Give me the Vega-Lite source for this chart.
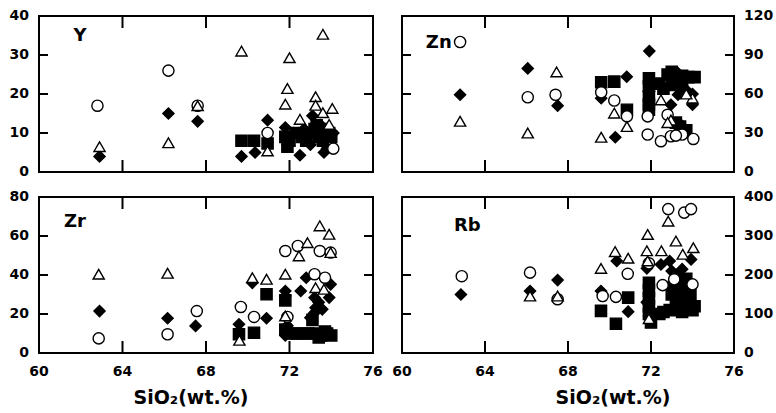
{
  "$schema": "https://vega.github.io/schema/vega-lite/v6.json",
  "background": "white",
  "padding": {"left": 8, "top": 8, "right": 4, "bottom": 4},
  "config": {
    "font": "DejaVu Sans",
    "view": {"stroke": "black", "strokeWidth": 2},
    "tick": {"opacity": 1},
    "text": {"font": "DejaVu Sans", "fontWeight": "bold", "color": "black"}
  },
  "datasets": {
    "ticks": [
      {"panel":"Y","dir":"x","t":64},{"panel":"Y","dir":"x","t":68},{"panel":"Y","dir":"x","t":72},
      {"panel":"Y","dir":"y","t":10},{"panel":"Y","dir":"y","t":20},{"panel":"Y","dir":"y","t":30},
      {"panel":"Zn","dir":"x","t":64},{"panel":"Zn","dir":"x","t":68},{"panel":"Zn","dir":"x","t":72},
      {"panel":"Zn","dir":"y","t":30},{"panel":"Zn","dir":"y","t":60},{"panel":"Zn","dir":"y","t":90},
      {"panel":"Zr","dir":"x","t":64},{"panel":"Zr","dir":"x","t":68},{"panel":"Zr","dir":"x","t":72},
      {"panel":"Zr","dir":"y","t":20},{"panel":"Zr","dir":"y","t":40},{"panel":"Zr","dir":"y","t":60},
      {"panel":"Rb","dir":"x","t":64},{"panel":"Rb","dir":"x","t":68},{"panel":"Rb","dir":"x","t":72},
      {"panel":"Rb","dir":"y","t":100},{"panel":"Rb","dir":"y","t":200},{"panel":"Rb","dir":"y","t":300}
    ],
    "labels": [
      {"panel":"Y","dir":"y","t":0},{"panel":"Y","dir":"y","t":10},{"panel":"Y","dir":"y","t":20},{"panel":"Y","dir":"y","t":30},{"panel":"Y","dir":"y","t":40},
      {"panel":"Zn","dir":"y","t":0},{"panel":"Zn","dir":"y","t":30},{"panel":"Zn","dir":"y","t":60},{"panel":"Zn","dir":"y","t":90},{"panel":"Zn","dir":"y","t":120},
      {"panel":"Zr","dir":"y","t":0},{"panel":"Zr","dir":"y","t":20},{"panel":"Zr","dir":"y","t":40},{"panel":"Zr","dir":"y","t":60},{"panel":"Zr","dir":"y","t":80},
      {"panel":"Rb","dir":"y","t":0},{"panel":"Rb","dir":"y","t":100},{"panel":"Rb","dir":"y","t":200},{"panel":"Rb","dir":"y","t":300},{"panel":"Rb","dir":"y","t":400},
      {"panel":"Zr","dir":"x","t":60},{"panel":"Zr","dir":"x","t":64},{"panel":"Zr","dir":"x","t":68},{"panel":"Zr","dir":"x","t":72},{"panel":"Zr","dir":"x","t":76},
      {"panel":"Rb","dir":"x","t":60},{"panel":"Rb","dir":"x","t":64},{"panel":"Rb","dir":"x","t":68},{"panel":"Rb","dir":"x","t":72},{"panel":"Rb","dir":"x","t":76}
    ],
    "pts": [
      {"panel":"Y","grp":"diamond","sio2":62.9,"val":4},
      {"panel":"Y","grp":"diamond","sio2":66.2,"val":15},
      {"panel":"Y","grp":"diamond","sio2":67.6,"val":13},
      {"panel":"Y","grp":"diamond","sio2":69.7,"val":4},
      {"panel":"Y","grp":"diamond","sio2":70.35,"val":5},
      {"panel":"Y","grp":"diamond","sio2":70.95,"val":13.3},
      {"panel":"Y","grp":"diamond","sio2":71.8,"val":11.4},
      {"panel":"Y","grp":"diamond","sio2":72.5,"val":4.3},
      {"panel":"Y","grp":"diamond","sio2":73.65,"val":5},
      {"panel":"Y","grp":"diamond","sio2":73.1,"val":14.4},
      {"panel":"Y","grp":"diamond","sio2":71.9,"val":7},
      {"panel":"Y","grp":"diamond","sio2":72.2,"val":10},
      {"panel":"Y","grp":"diamond","sio2":73.0,"val":7},
      {"panel":"Y","grp":"diamond","sio2":73.5,"val":12},
      {"panel":"Y","grp":"diamond","sio2":73.8,"val":6},
      {"panel":"Y","grp":"diamond","sio2":74.1,"val":10},
      {"panel":"Y","grp":"diamond","sio2":72.7,"val":11},
      {"panel":"Y","grp":"diamond","sio2":73.3,"val":9},
      {"panel":"Y","grp":"square","sio2":69.7,"val":8},
      {"panel":"Y","grp":"square","sio2":70.3,"val":8},
      {"panel":"Y","grp":"square","sio2":70.95,"val":7.3},
      {"panel":"Y","grp":"square","sio2":71.8,"val":9},
      {"panel":"Y","grp":"square","sio2":72.0,"val":8},
      {"panel":"Y","grp":"square","sio2":72.3,"val":10},
      {"panel":"Y","grp":"square","sio2":72.6,"val":9},
      {"panel":"Y","grp":"square","sio2":72.9,"val":10},
      {"panel":"Y","grp":"square","sio2":73.2,"val":11},
      {"panel":"Y","grp":"square","sio2":73.4,"val":9},
      {"panel":"Y","grp":"square","sio2":73.6,"val":8},
      {"panel":"Y","grp":"square","sio2":73.9,"val":10},
      {"panel":"Y","grp":"square","sio2":73.3,"val":12},
      {"panel":"Y","grp":"square","sio2":72.8,"val":8},
      {"panel":"Y","grp":"square","sio2":73.7,"val":11},
      {"panel":"Y","grp":"square","sio2":74.0,"val":9},
      {"panel":"Y","grp":"square","sio2":71.9,"val":6.5},
      {"panel":"Y","grp":"circle","sio2":62.8,"val":17},
      {"panel":"Y","grp":"circle","sio2":66.2,"val":26},
      {"panel":"Y","grp":"circle","sio2":67.6,"val":17},
      {"panel":"Y","grp":"circle","sio2":70.95,"val":10},
      {"panel":"Y","grp":"circle","sio2":74.1,"val":6},
      {"panel":"Y","grp":"triangle","sio2":62.9,"val":6.5},
      {"panel":"Y","grp":"triangle","sio2":66.2,"val":7.5},
      {"panel":"Y","grp":"triangle","sio2":67.6,"val":17},
      {"panel":"Y","grp":"triangle","sio2":69.7,"val":31},
      {"panel":"Y","grp":"triangle","sio2":72.0,"val":29.3},
      {"panel":"Y","grp":"triangle","sio2":73.6,"val":35.3},
      {"panel":"Y","grp":"triangle","sio2":71.9,"val":21.4},
      {"panel":"Y","grp":"triangle","sio2":71.8,"val":17.4},
      {"panel":"Y","grp":"triangle","sio2":72.5,"val":13.5},
      {"panel":"Y","grp":"triangle","sio2":73.25,"val":19.3},
      {"panel":"Y","grp":"triangle","sio2":73.25,"val":17.1},
      {"panel":"Y","grp":"triangle","sio2":73.6,"val":15.2},
      {"panel":"Y","grp":"triangle","sio2":74.05,"val":16.3},
      {"panel":"Y","grp":"triangle","sio2":73.9,"val":12.2},
      {"panel":"Y","grp":"triangle","sio2":70.95,"val":5.4},

      {"panel":"Zn","grp":"diamond","sio2":62.8,"val":59.4},
      {"panel":"Zn","grp":"diamond","sio2":66.06,"val":79.7},
      {"panel":"Zn","grp":"diamond","sio2":67.5,"val":51},
      {"panel":"Zn","grp":"diamond","sio2":70.83,"val":73.3},
      {"panel":"Zn","grp":"diamond","sio2":69.6,"val":56.8},
      {"panel":"Zn","grp":"diamond","sio2":70.28,"val":26.7},
      {"panel":"Zn","grp":"diamond","sio2":71.92,"val":93},
      {"panel":"Zn","grp":"diamond","sio2":72.96,"val":51.7},
      {"panel":"Zn","grp":"diamond","sio2":74.0,"val":51.7},
      {"panel":"Zn","grp":"diamond","sio2":73.3,"val":59.4},
      {"panel":"Zn","grp":"diamond","sio2":71.9,"val":62},
      {"panel":"Zn","grp":"diamond","sio2":71.9,"val":55},
      {"panel":"Zn","grp":"diamond","sio2":72.5,"val":66},
      {"panel":"Zn","grp":"diamond","sio2":73.3,"val":76},
      {"panel":"Zn","grp":"diamond","sio2":73.7,"val":63},
      {"panel":"Zn","grp":"diamond","sio2":74.0,"val":60},
      {"panel":"Zn","grp":"diamond","sio2":73.4,"val":37},
      {"panel":"Zn","grp":"square","sio2":69.6,"val":69},
      {"panel":"Zn","grp":"square","sio2":70.23,"val":69.5},
      {"panel":"Zn","grp":"square","sio2":70.84,"val":47.9},
      {"panel":"Zn","grp":"square","sio2":71.9,"val":72},
      {"panel":"Zn","grp":"square","sio2":71.9,"val":66},
      {"panel":"Zn","grp":"square","sio2":71.9,"val":58},
      {"panel":"Zn","grp":"square","sio2":71.9,"val":52},
      {"panel":"Zn","grp":"square","sio2":71.9,"val":48},
      {"panel":"Zn","grp":"square","sio2":72.4,"val":68},
      {"panel":"Zn","grp":"square","sio2":72.8,"val":75},
      {"panel":"Zn","grp":"square","sio2":73.0,"val":77},
      {"panel":"Zn","grp":"square","sio2":73.2,"val":72},
      {"panel":"Zn","grp":"square","sio2":73.5,"val":74},
      {"panel":"Zn","grp":"square","sio2":73.8,"val":73},
      {"panel":"Zn","grp":"square","sio2":74.1,"val":73},
      {"panel":"Zn","grp":"square","sio2":73.0,"val":67},
      {"panel":"Zn","grp":"square","sio2":73.5,"val":66},
      {"panel":"Zn","grp":"square","sio2":72.6,"val":64},
      {"panel":"Zn","grp":"square","sio2":73.4,"val":35},
      {"panel":"Zn","grp":"square","sio2":73.7,"val":32},
      {"panel":"Zn","grp":"square","sio2":73.2,"val":38},
      {"panel":"Zn","grp":"circle","sio2":62.8,"val":100},
      {"panel":"Zn","grp":"circle","sio2":66.06,"val":57.5},
      {"panel":"Zn","grp":"circle","sio2":67.4,"val":59.4},
      {"panel":"Zn","grp":"circle","sio2":69.6,"val":61.3},
      {"panel":"Zn","grp":"circle","sio2":70.23,"val":55},
      {"panel":"Zn","grp":"circle","sio2":70.84,"val":42.8},
      {"panel":"Zn","grp":"circle","sio2":71.84,"val":28.8},
      {"panel":"Zn","grp":"circle","sio2":72.48,"val":23.7},
      {"panel":"Zn","grp":"circle","sio2":72.96,"val":27.5},
      {"panel":"Zn","grp":"circle","sio2":73.5,"val":28.8},
      {"panel":"Zn","grp":"circle","sio2":74.04,"val":25.4},
      {"panel":"Zn","grp":"circle","sio2":72.8,"val":44},
      {"panel":"Zn","grp":"circle","sio2":71.84,"val":42.8},
      {"panel":"Zn","grp":"circle","sio2":73.2,"val":28},
      {"panel":"Zn","grp":"triangle","sio2":62.8,"val":39},
      {"panel":"Zn","grp":"triangle","sio2":66.06,"val":30},
      {"panel":"Zn","grp":"triangle","sio2":67.45,"val":77},
      {"panel":"Zn","grp":"triangle","sio2":70.23,"val":45.3},
      {"panel":"Zn","grp":"triangle","sio2":70.84,"val":35},
      {"panel":"Zn","grp":"triangle","sio2":69.6,"val":26.7},
      {"panel":"Zn","grp":"triangle","sio2":72.48,"val":55.5},
      {"panel":"Zn","grp":"triangle","sio2":72.96,"val":40},
      {"panel":"Zn","grp":"triangle","sio2":74.0,"val":56.8},
      {"panel":"Zn","grp":"triangle","sio2":72.8,"val":38},
      {"panel":"Zn","grp":"triangle","sio2":73.7,"val":60},

      {"panel":"Zr","grp":"diamond","sio2":62.9,"val":21.5},
      {"panel":"Zr","grp":"diamond","sio2":66.16,"val":17.8},
      {"panel":"Zr","grp":"diamond","sio2":67.5,"val":13.9},
      {"panel":"Zr","grp":"diamond","sio2":69.58,"val":14.7},
      {"panel":"Zr","grp":"diamond","sio2":70.22,"val":36},
      {"panel":"Zr","grp":"diamond","sio2":70.9,"val":17.8},
      {"panel":"Zr","grp":"diamond","sio2":71.8,"val":31.8},
      {"panel":"Zr","grp":"diamond","sio2":71.8,"val":29.2},
      {"panel":"Zr","grp":"diamond","sio2":72.54,"val":31.8},
      {"panel":"Zr","grp":"diamond","sio2":72.8,"val":38.6},
      {"panel":"Zr","grp":"diamond","sio2":73.97,"val":35.2},
      {"panel":"Zr","grp":"diamond","sio2":73.9,"val":28.4},
      {"panel":"Zr","grp":"diamond","sio2":73.2,"val":28.4},
      {"panel":"Zr","grp":"diamond","sio2":73.25,"val":23.2},
      {"panel":"Zr","grp":"diamond","sio2":73.0,"val":18.1},
      {"panel":"Zr","grp":"diamond","sio2":73.57,"val":22.4},
      {"panel":"Zr","grp":"diamond","sio2":73.2,"val":20.7},
      {"panel":"Zr","grp":"diamond","sio2":71.9,"val":14},
      {"panel":"Zr","grp":"diamond","sio2":71.8,"val":9},
      {"panel":"Zr","grp":"diamond","sio2":73.4,"val":26},
      {"panel":"Zr","grp":"square","sio2":69.58,"val":9.6},
      {"panel":"Zr","grp":"square","sio2":70.3,"val":10.4},
      {"panel":"Zr","grp":"square","sio2":70.9,"val":30.1},
      {"panel":"Zr","grp":"square","sio2":71.8,"val":12},
      {"panel":"Zr","grp":"square","sio2":72.0,"val":10},
      {"panel":"Zr","grp":"square","sio2":72.3,"val":10},
      {"panel":"Zr","grp":"square","sio2":72.6,"val":10},
      {"panel":"Zr","grp":"square","sio2":72.9,"val":10},
      {"panel":"Zr","grp":"square","sio2":73.2,"val":10},
      {"panel":"Zr","grp":"square","sio2":73.5,"val":9},
      {"panel":"Zr","grp":"square","sio2":73.8,"val":10},
      {"panel":"Zr","grp":"square","sio2":74.0,"val":9},
      {"panel":"Zr","grp":"square","sio2":73.7,"val":11},
      {"panel":"Zr","grp":"square","sio2":73.4,"val":8},
      {"panel":"Zr","grp":"square","sio2":71.8,"val":27},
      {"panel":"Zr","grp":"square","sio2":73.1,"val":17},
      {"panel":"Zr","grp":"circle","sio2":62.86,"val":7.5},
      {"panel":"Zr","grp":"circle","sio2":66.16,"val":9.6},
      {"panel":"Zr","grp":"circle","sio2":67.56,"val":21.5},
      {"panel":"Zr","grp":"circle","sio2":69.67,"val":23.6},
      {"panel":"Zr","grp":"circle","sio2":70.3,"val":18.5},
      {"panel":"Zr","grp":"circle","sio2":71.8,"val":52.3},
      {"panel":"Zr","grp":"circle","sio2":71.9,"val":18.5},
      {"panel":"Zr","grp":"circle","sio2":72.4,"val":54.9},
      {"panel":"Zr","grp":"circle","sio2":73.45,"val":52.3},
      {"panel":"Zr","grp":"circle","sio2":73.97,"val":51.5},
      {"panel":"Zr","grp":"circle","sio2":73.2,"val":40.4},
      {"panel":"Zr","grp":"circle","sio2":73.7,"val":38.6},
      {"panel":"Zr","grp":"triangle","sio2":62.86,"val":40.4},
      {"panel":"Zr","grp":"triangle","sio2":66.16,"val":40.9},
      {"panel":"Zr","grp":"triangle","sio2":69.6,"val":6.5},
      {"panel":"Zr","grp":"triangle","sio2":70.22,"val":38.6},
      {"panel":"Zr","grp":"triangle","sio2":70.9,"val":37.8},
      {"panel":"Zr","grp":"triangle","sio2":71.8,"val":40.4},
      {"panel":"Zr","grp":"triangle","sio2":71.8,"val":19},
      {"panel":"Zr","grp":"triangle","sio2":72.45,"val":49.8},
      {"panel":"Zr","grp":"triangle","sio2":72.86,"val":56.6},
      {"panel":"Zr","grp":"triangle","sio2":73.45,"val":65.2},
      {"panel":"Zr","grp":"triangle","sio2":73.9,"val":60.9},
      {"panel":"Zr","grp":"triangle","sio2":73.97,"val":51.5},
      {"panel":"Zr","grp":"triangle","sio2":73.25,"val":33.5},
      {"panel":"Zr","grp":"triangle","sio2":73.65,"val":32.7},

      {"panel":"Rb","grp":"diamond","sio2":62.84,"val":150},
      {"panel":"Rb","grp":"diamond","sio2":66.17,"val":159},
      {"panel":"Rb","grp":"diamond","sio2":67.5,"val":187},
      {"panel":"Rb","grp":"diamond","sio2":69.59,"val":159},
      {"panel":"Rb","grp":"diamond","sio2":70.35,"val":236},
      {"panel":"Rb","grp":"diamond","sio2":70.9,"val":106},
      {"panel":"Rb","grp":"diamond","sio2":71.8,"val":217},
      {"panel":"Rb","grp":"diamond","sio2":71.8,"val":130},
      {"panel":"Rb","grp":"diamond","sio2":71.9,"val":95},
      {"panel":"Rb","grp":"diamond","sio2":72.48,"val":227},
      {"panel":"Rb","grp":"diamond","sio2":72.9,"val":236},
      {"panel":"Rb","grp":"diamond","sio2":73.93,"val":240},
      {"panel":"Rb","grp":"diamond","sio2":73.5,"val":215},
      {"panel":"Rb","grp":"diamond","sio2":73.4,"val":170},
      {"panel":"Rb","grp":"diamond","sio2":73.9,"val":130},
      {"panel":"Rb","grp":"diamond","sio2":73.0,"val":210},
      {"panel":"Rb","grp":"square","sio2":69.59,"val":108},
      {"panel":"Rb","grp":"square","sio2":70.31,"val":75},
      {"panel":"Rb","grp":"square","sio2":70.9,"val":142},
      {"panel":"Rb","grp":"square","sio2":71.9,"val":180},
      {"panel":"Rb","grp":"square","sio2":71.9,"val":160},
      {"panel":"Rb","grp":"square","sio2":71.9,"val":140},
      {"panel":"Rb","grp":"square","sio2":71.9,"val":120},
      {"panel":"Rb","grp":"square","sio2":71.9,"val":100},
      {"panel":"Rb","grp":"square","sio2":72.0,"val":78},
      {"panel":"Rb","grp":"square","sio2":72.6,"val":105},
      {"panel":"Rb","grp":"square","sio2":72.9,"val":110},
      {"panel":"Rb","grp":"square","sio2":73.2,"val":120},
      {"panel":"Rb","grp":"square","sio2":73.4,"val":140},
      {"panel":"Rb","grp":"square","sio2":73.6,"val":160},
      {"panel":"Rb","grp":"square","sio2":73.8,"val":130},
      {"panel":"Rb","grp":"square","sio2":74.0,"val":110},
      {"panel":"Rb","grp":"square","sio2":73.3,"val":200},
      {"panel":"Rb","grp":"square","sio2":73.7,"val":190},
      {"panel":"Rb","grp":"square","sio2":73.1,"val":170},
      {"panel":"Rb","grp":"square","sio2":73.5,"val":105},
      {"panel":"Rb","grp":"square","sio2":74.1,"val":120},
      {"panel":"Rb","grp":"square","sio2":73.0,"val":150},
      {"panel":"Rb","grp":"square","sio2":73.9,"val":150},
      {"panel":"Rb","grp":"square","sio2":72.4,"val":100},
      {"panel":"Rb","grp":"circle","sio2":62.88,"val":197},
      {"panel":"Rb","grp":"circle","sio2":66.17,"val":206},
      {"panel":"Rb","grp":"circle","sio2":67.5,"val":138},
      {"panel":"Rb","grp":"circle","sio2":69.67,"val":146},
      {"panel":"Rb","grp":"circle","sio2":70.31,"val":144},
      {"panel":"Rb","grp":"circle","sio2":70.88,"val":203},
      {"panel":"Rb","grp":"circle","sio2":72.83,"val":369},
      {"panel":"Rb","grp":"circle","sio2":73.6,"val":360},
      {"panel":"Rb","grp":"circle","sio2":73.93,"val":369},
      {"panel":"Rb","grp":"circle","sio2":72.56,"val":174},
      {"panel":"Rb","grp":"circle","sio2":74.0,"val":176},
      {"panel":"Rb","grp":"circle","sio2":73.12,"val":189},
      {"panel":"Rb","grp":"circle","sio2":71.9,"val":230},
      {"panel":"Rb","grp":"triangle","sio2":66.17,"val":146},
      {"panel":"Rb","grp":"triangle","sio2":67.5,"val":146},
      {"panel":"Rb","grp":"triangle","sio2":69.59,"val":217},
      {"panel":"Rb","grp":"triangle","sio2":70.27,"val":260},
      {"panel":"Rb","grp":"triangle","sio2":70.9,"val":243},
      {"panel":"Rb","grp":"triangle","sio2":71.84,"val":304},
      {"panel":"Rb","grp":"triangle","sio2":71.8,"val":262},
      {"panel":"Rb","grp":"triangle","sio2":71.84,"val":236},
      {"panel":"Rb","grp":"triangle","sio2":72.5,"val":262},
      {"panel":"Rb","grp":"triangle","sio2":72.83,"val":338},
      {"panel":"Rb","grp":"triangle","sio2":73.2,"val":287},
      {"panel":"Rb","grp":"triangle","sio2":73.53,"val":253},
      {"panel":"Rb","grp":"triangle","sio2":74.04,"val":270},
      {"panel":"Rb","grp":"triangle","sio2":71.9,"val":88}
    ]
  },
  "columns": 2,
  "spacing": {"row": 25, "column": 29},
  "bounds": "flush",
  "concat": [
    {
      "width": 334, "height": 156,
      "layer": [
        {
          "data": {"name": "ticks"},
          "transform": [{"filter": "datum.panel === 'Y' && datum.dir === 'x'"}],
          "layer": [
            {"mark": {"type": "tick", "orient": "vertical", "size": 12, "thickness": 2, "color": "black", "opacity": 1, "yOffset": -6},
             "encoding": {"x": {"field": "t", "type": "quantitative", "axis": null}, "y": {"datum": 0, "type": "quantitative", "axis": null}}},
            {"mark": {"type": "tick", "orient": "vertical", "size": 12, "thickness": 2, "color": "black", "opacity": 1, "yOffset": 6},
             "encoding": {"x": {"field": "t", "type": "quantitative", "axis": null}, "y": {"datum": 40, "type": "quantitative", "axis": null}}}
          ]
        },
        {
          "data": {"name": "ticks"},
          "transform": [{"filter": "datum.panel === 'Y' && datum.dir === 'y'"}],
          "layer": [
            {"mark": {"type": "tick", "orient": "horizontal", "size": 9, "thickness": 2, "color": "black", "opacity": 1, "xOffset": 4.5},
             "encoding": {"y": {"field": "t", "type": "quantitative", "axis": null}, "x": {"datum": 60, "type": "quantitative", "axis": null}}},
            {"mark": {"type": "tick", "orient": "horizontal", "size": 9, "thickness": 2, "color": "black", "opacity": 1, "xOffset": -4.5},
             "encoding": {"y": {"field": "t", "type": "quantitative", "axis": null}, "x": {"datum": 76, "type": "quantitative", "axis": null}}}
          ]
        },
        {
          "data": {"name": "pts"},
          "transform": [{"filter": "datum.panel === 'Y'"}],
          "mark": {"type": "point", "filled": true, "stroke": "black", "strokeWidth": 1.4, "size": 125, "opacity": 1},
          "encoding": {
            "x": {"field": "sio2", "type": "quantitative", "scale": {"domain": [60, 76], "nice": false, "zero": false}, "axis": null},
            "y": {"field": "val", "type": "quantitative", "scale": {"domain": [0, 40], "nice": false}, "axis": null},
            "shape": {"field": "grp", "type": "nominal", "scale": {"domain": ["circle", "triangle", "diamond", "square"], "range": ["circle", "triangle-up", "diamond", "square"]}, "legend": null},
            "fill": {"field": "grp", "type": "nominal", "scale": {"domain": ["circle", "triangle", "diamond", "square"], "range": ["white", "white", "black", "black"]}, "legend": null}
          }
        },
        {
          "data": {"name": "labels"},
          "transform": [{"filter": "datum.panel === 'Y' && datum.dir === 'y'"}],
          "mark": {"type": "text", "align": "right", "baseline": "middle", "dx": -10, "fontSize": 14, "fontWeight": "bold", "font": "DejaVu Sans", "color": "black"},
          "encoding": {
            "y": {"field": "t", "type": "quantitative", "axis": null},
            "x": {"datum": 60, "type": "quantitative", "axis": null},
            "text": {"field": "t", "type": "quantitative"}
          }
        },
        {
          "data": {"values": [{}]},
          "mark": {"type": "text", "text": "Y", "align": "left", "baseline": "middle", "font": "DejaVu Sans", "fontWeight": "bold", "fontSize": 18, "color": "black"},
          "encoding": {
            "x": {"datum": 61.65, "type": "quantitative", "axis": null},
            "y": {"datum": 35, "type": "quantitative", "axis": null}
          }
        }
      ]
    },
    {
      "width": 332, "height": 156,
      "layer": [
        {
          "data": {"name": "ticks"},
          "transform": [{"filter": "datum.panel === 'Zn' && datum.dir === 'x'"}],
          "layer": [
            {"mark": {"type": "tick", "orient": "vertical", "size": 12, "thickness": 2, "color": "black", "opacity": 1, "yOffset": -6},
             "encoding": {"x": {"field": "t", "type": "quantitative", "axis": null}, "y": {"datum": 0, "type": "quantitative", "axis": null}}},
            {"mark": {"type": "tick", "orient": "vertical", "size": 12, "thickness": 2, "color": "black", "opacity": 1, "yOffset": 6},
             "encoding": {"x": {"field": "t", "type": "quantitative", "axis": null}, "y": {"datum": 120, "type": "quantitative", "axis": null}}}
          ]
        },
        {
          "data": {"name": "ticks"},
          "transform": [{"filter": "datum.panel === 'Zn' && datum.dir === 'y'"}],
          "layer": [
            {"mark": {"type": "tick", "orient": "horizontal", "size": 9, "thickness": 2, "color": "black", "opacity": 1, "xOffset": 4.5},
             "encoding": {"y": {"field": "t", "type": "quantitative", "axis": null}, "x": {"datum": 60, "type": "quantitative", "axis": null}}},
            {"mark": {"type": "tick", "orient": "horizontal", "size": 9, "thickness": 2, "color": "black", "opacity": 1, "xOffset": -4.5},
             "encoding": {"y": {"field": "t", "type": "quantitative", "axis": null}, "x": {"datum": 76, "type": "quantitative", "axis": null}}}
          ]
        },
        {
          "data": {"name": "pts"},
          "transform": [{"filter": "datum.panel === 'Zn'"}],
          "mark": {"type": "point", "filled": true, "stroke": "black", "strokeWidth": 1.4, "size": 125, "opacity": 1},
          "encoding": {
            "x": {"field": "sio2", "type": "quantitative", "scale": {"domain": [60, 76], "nice": false, "zero": false}, "axis": null},
            "y": {"field": "val", "type": "quantitative", "scale": {"domain": [0, 120], "nice": false}, "axis": null},
            "shape": {"field": "grp", "type": "nominal", "scale": {"domain": ["circle", "triangle", "diamond", "square"], "range": ["circle", "triangle-up", "diamond", "square"]}, "legend": null},
            "fill": {"field": "grp", "type": "nominal", "scale": {"domain": ["circle", "triangle", "diamond", "square"], "range": ["white", "white", "black", "black"]}, "legend": null}
          }
        },
        {
          "data": {"name": "labels"},
          "transform": [{"filter": "datum.panel === 'Zn' && datum.dir === 'y'"}],
          "mark": {"type": "text", "align": "left", "baseline": "middle", "dx": 10, "fontSize": 14, "fontWeight": "bold", "font": "DejaVu Sans", "color": "black"},
          "encoding": {
            "y": {"field": "t", "type": "quantitative", "axis": null},
            "x": {"datum": 76, "type": "quantitative", "axis": null},
            "text": {"field": "t", "type": "quantitative"}
          }
        },
        {
          "data": {"values": [{}]},
          "mark": {"type": "text", "text": "Zn", "align": "left", "baseline": "middle", "font": "DejaVu Sans", "fontWeight": "bold", "fontSize": 18, "color": "black"},
          "encoding": {
            "x": {"datum": 61.15, "type": "quantitative", "axis": null},
            "y": {"datum": 99, "type": "quantitative", "axis": null}
          }
        }
      ]
    },
    {
      "width": 334, "height": 156,
      "layer": [
        {
          "data": {"name": "ticks"},
          "transform": [{"filter": "datum.panel === 'Zr' && datum.dir === 'x'"}],
          "layer": [
            {"mark": {"type": "tick", "orient": "vertical", "size": 12, "thickness": 2, "color": "black", "opacity": 1, "yOffset": -6},
             "encoding": {"x": {"field": "t", "type": "quantitative", "axis": null}, "y": {"datum": 0, "type": "quantitative", "axis": null}}},
            {"mark": {"type": "tick", "orient": "vertical", "size": 12, "thickness": 2, "color": "black", "opacity": 1, "yOffset": 6},
             "encoding": {"x": {"field": "t", "type": "quantitative", "axis": null}, "y": {"datum": 80, "type": "quantitative", "axis": null}}}
          ]
        },
        {
          "data": {"name": "ticks"},
          "transform": [{"filter": "datum.panel === 'Zr' && datum.dir === 'y'"}],
          "layer": [
            {"mark": {"type": "tick", "orient": "horizontal", "size": 9, "thickness": 2, "color": "black", "opacity": 1, "xOffset": 4.5},
             "encoding": {"y": {"field": "t", "type": "quantitative", "axis": null}, "x": {"datum": 60, "type": "quantitative", "axis": null}}},
            {"mark": {"type": "tick", "orient": "horizontal", "size": 9, "thickness": 2, "color": "black", "opacity": 1, "xOffset": -4.5},
             "encoding": {"y": {"field": "t", "type": "quantitative", "axis": null}, "x": {"datum": 76, "type": "quantitative", "axis": null}}}
          ]
        },
        {
          "data": {"name": "pts"},
          "transform": [{"filter": "datum.panel === 'Zr'"}],
          "mark": {"type": "point", "filled": true, "stroke": "black", "strokeWidth": 1.4, "size": 125, "opacity": 1},
          "encoding": {
            "x": {"field": "sio2", "type": "quantitative", "scale": {"domain": [60, 76], "nice": false, "zero": false}, "axis": null},
            "y": {"field": "val", "type": "quantitative", "scale": {"domain": [0, 80], "nice": false}, "axis": null},
            "shape": {"field": "grp", "type": "nominal", "scale": {"domain": ["circle", "triangle", "diamond", "square"], "range": ["circle", "triangle-up", "diamond", "square"]}, "legend": null},
            "fill": {"field": "grp", "type": "nominal", "scale": {"domain": ["circle", "triangle", "diamond", "square"], "range": ["white", "white", "black", "black"]}, "legend": null}
          }
        },
        {
          "data": {"name": "labels"},
          "transform": [{"filter": "datum.panel === 'Zr' && datum.dir === 'y'"}],
          "mark": {"type": "text", "align": "right", "baseline": "middle", "dx": -10, "fontSize": 14, "fontWeight": "bold", "font": "DejaVu Sans", "color": "black"},
          "encoding": {
            "y": {"field": "t", "type": "quantitative", "axis": null},
            "x": {"datum": 60, "type": "quantitative", "axis": null},
            "text": {"field": "t", "type": "quantitative"}
          }
        },
        {
          "data": {"name": "labels"},
          "transform": [{"filter": "datum.panel === 'Zr' && datum.dir === 'x'"}],
          "mark": {"type": "text", "align": "center", "baseline": "top", "dy": 12, "fontSize": 14, "fontWeight": "bold", "font": "DejaVu Sans", "color": "black"},
          "encoding": {
            "x": {"field": "t", "type": "quantitative", "axis": null},
            "y": {"datum": 0, "type": "quantitative", "axis": null},
            "text": {"field": "t", "type": "quantitative"}
          }
        },
        {
          "data": {"values": [{}]},
          "mark": {"type": "text", "text": "SiO₂(wt.%)", "align": "center", "baseline": "middle", "dy": 45, "font": "DejaVu Sans", "fontWeight": "bold", "fontSize": 19, "color": "black"},
          "encoding": {
            "x": {"datum": 67.28, "type": "quantitative", "axis": null},
            "y": {"datum": 0, "type": "quantitative", "axis": null}
          }
        },
        {
          "data": {"values": [{}]},
          "mark": {"type": "text", "text": "Zr", "align": "left", "baseline": "middle", "font": "DejaVu Sans", "fontWeight": "bold", "fontSize": 18, "color": "black"},
          "encoding": {
            "x": {"datum": 61.2, "type": "quantitative", "axis": null},
            "y": {"datum": 67, "type": "quantitative", "axis": null}
          }
        }
      ]
    },
    {
      "width": 332, "height": 156,
      "layer": [
        {
          "data": {"name": "ticks"},
          "transform": [{"filter": "datum.panel === 'Rb' && datum.dir === 'x'"}],
          "layer": [
            {"mark": {"type": "tick", "orient": "vertical", "size": 12, "thickness": 2, "color": "black", "opacity": 1, "yOffset": -6},
             "encoding": {"x": {"field": "t", "type": "quantitative", "axis": null}, "y": {"datum": 0, "type": "quantitative", "axis": null}}},
            {"mark": {"type": "tick", "orient": "vertical", "size": 12, "thickness": 2, "color": "black", "opacity": 1, "yOffset": 6},
             "encoding": {"x": {"field": "t", "type": "quantitative", "axis": null}, "y": {"datum": 400, "type": "quantitative", "axis": null}}}
          ]
        },
        {
          "data": {"name": "ticks"},
          "transform": [{"filter": "datum.panel === 'Rb' && datum.dir === 'y'"}],
          "layer": [
            {"mark": {"type": "tick", "orient": "horizontal", "size": 9, "thickness": 2, "color": "black", "opacity": 1, "xOffset": 4.5},
             "encoding": {"y": {"field": "t", "type": "quantitative", "axis": null}, "x": {"datum": 60, "type": "quantitative", "axis": null}}},
            {"mark": {"type": "tick", "orient": "horizontal", "size": 9, "thickness": 2, "color": "black", "opacity": 1, "xOffset": -4.5},
             "encoding": {"y": {"field": "t", "type": "quantitative", "axis": null}, "x": {"datum": 76, "type": "quantitative", "axis": null}}}
          ]
        },
        {
          "data": {"name": "pts"},
          "transform": [{"filter": "datum.panel === 'Rb'"}],
          "mark": {"type": "point", "filled": true, "stroke": "black", "strokeWidth": 1.4, "size": 125, "opacity": 1},
          "encoding": {
            "x": {"field": "sio2", "type": "quantitative", "scale": {"domain": [60, 76], "nice": false, "zero": false}, "axis": null},
            "y": {"field": "val", "type": "quantitative", "scale": {"domain": [0, 400], "nice": false}, "axis": null},
            "shape": {"field": "grp", "type": "nominal", "scale": {"domain": ["circle", "triangle", "diamond", "square"], "range": ["circle", "triangle-up", "diamond", "square"]}, "legend": null},
            "fill": {"field": "grp", "type": "nominal", "scale": {"domain": ["circle", "triangle", "diamond", "square"], "range": ["white", "white", "black", "black"]}, "legend": null}
          }
        },
        {
          "data": {"name": "labels"},
          "transform": [{"filter": "datum.panel === 'Rb' && datum.dir === 'y'"}],
          "mark": {"type": "text", "align": "left", "baseline": "middle", "dx": 10, "fontSize": 14, "fontWeight": "bold", "font": "DejaVu Sans", "color": "black"},
          "encoding": {
            "y": {"field": "t", "type": "quantitative", "axis": null},
            "x": {"datum": 76, "type": "quantitative", "axis": null},
            "text": {"field": "t", "type": "quantitative"}
          }
        },
        {
          "data": {"name": "labels"},
          "transform": [{"filter": "datum.panel === 'Rb' && datum.dir === 'x'"}],
          "mark": {"type": "text", "align": "center", "baseline": "top", "dy": 12, "fontSize": 14, "fontWeight": "bold", "font": "DejaVu Sans", "color": "black"},
          "encoding": {
            "x": {"field": "t", "type": "quantitative", "axis": null},
            "y": {"datum": 0, "type": "quantitative", "axis": null},
            "text": {"field": "t", "type": "quantitative"}
          }
        },
        {
          "data": {"values": [{}]},
          "mark": {"type": "text", "text": "SiO₂(wt.%)", "align": "center", "baseline": "middle", "dy": 45, "font": "DejaVu Sans", "fontWeight": "bold", "fontSize": 19, "color": "black"},
          "encoding": {
            "x": {"datum": 70.17, "type": "quantitative", "axis": null},
            "y": {"datum": 0, "type": "quantitative", "axis": null}
          }
        },
        {
          "data": {"values": [{}]},
          "mark": {"type": "text", "text": "Rb", "align": "left", "baseline": "middle", "font": "DejaVu Sans", "fontWeight": "bold", "fontSize": 18, "color": "black"},
          "encoding": {
            "x": {"datum": 62.5, "type": "quantitative", "axis": null},
            "y": {"datum": 326, "type": "quantitative", "axis": null}
          }
        }
      ]
    }
  ]
}
